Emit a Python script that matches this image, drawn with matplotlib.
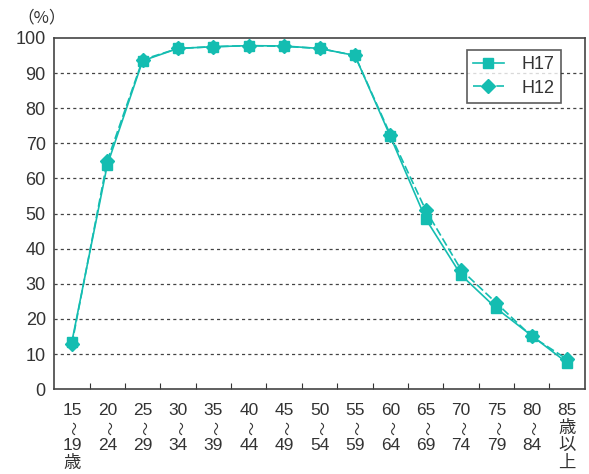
import matplotlib.pyplot as plt
import matplotlib.transforms as mtransforms

plt.rcParams['font.family'] = ['Liberation Sans', 'Noto Sans CJK JP', 'DejaVu Sans']

ages = ["15\n〜\n19\n歳", "20\n〜\n24", "25\n〜\n29", "30\n〜\n34", "35\n〜\n39",
        "40\n〜\n44", "45\n〜\n49", "50\n〜\n54", "55\n〜\n59", "60\n〜\n64",
        "65\n〜\n69", "70\n〜\n74", "75\n〜\n79", "80\n〜\n84", "85\n歳\n以\n上"]
h17 = [13.5, 63.8, 93.5, 97.0, 97.5, 97.8, 97.7, 97.0, 95.0, 72.0, 48.5, 32.5, 23.0, 15.2, 7.5]
h12 = [12.8, 65.0, 93.8, 97.0, 97.5, 97.8, 97.6, 97.0, 95.0, 72.5, 51.0, 34.0, 24.5, 15.0, 8.5]

color = "#14bdb1"
txt = "#333333"
x = list(range(len(ages)))

fig = plt.figure(figsize=(5.89, 4.74), dpi=100)
ax = fig.add_axes([0.092, 0.179, 0.901, 0.741])

ax.plot(x, h17, color=color, lw=1.2, marker="s", ms=7, label="H17")
ax.plot(x, h12, color=color, lw=1.2, ls=(0, (5, 2)), marker="D", ms=7, label="H12")

ax.set_xlim(-0.5, len(ages) - 0.5)
ax.set_ylim(0, 100)
ax.set_yticks(range(0, 101, 10))
ax.tick_params(axis="y", length=0, labelsize=13, pad=6, colors=txt)
ax.set_xticks([i + 0.5 for i in range(len(ages) - 1)])
ax.set_xticklabels([])
ax.tick_params(axis="x", which="major", direction="in", length=4, color=txt)

# category labels, one text per line under each point
trans = mtransforms.blended_transform_factory(ax.transData, ax.transAxes)
line_y = [-0.060, -0.111, -0.160, -0.211]
for i, lab in enumerate(ages):
    for j, part in enumerate(lab.split("\n")):
        if part == "〜":
            ax.text(i, line_y[j], part, transform=trans, ha="center", va="center",
                    fontsize=10, color=txt, rotation=-90, family="Noto Sans CJK JP")
        else:
            ax.text(i, line_y[j], part, transform=trans, ha="center", va="center",
                    fontsize=12.5, color=txt)

for v in range(10, 100, 10):
    ax.axhline(v, color="#444444", lw=0.9, ls=(0, (2.5, 2.5)), zorder=0)

for s in ax.spines.values():
    s.set_color("#444444")
    s.set_linewidth(1.2)

fig.text(0.03, 0.962, "（%）", fontsize=12, color=txt, ha="left", va="center",
         family="Noto Sans CJK JP")

leg = ax.legend(loc="upper right", bbox_to_anchor=(0.955, 0.966), borderaxespad=0,
                fontsize=13, frameon=True, fancybox=False, edgecolor=txt,
                handlelength=1.7, handletextpad=1.0, borderpad=0.35, labelspacing=0.35)
leg.get_frame().set_linewidth(1.2)
for t in leg.get_texts():
    t.set_color(txt)

fig.savefig("out.png", dpi=100)
